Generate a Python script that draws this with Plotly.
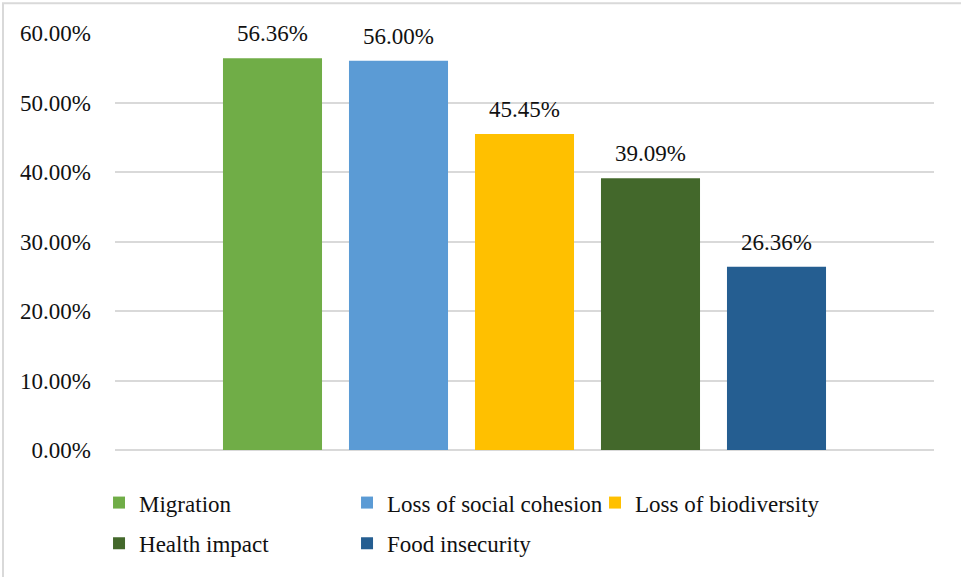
import plotly.graph_objects as go

# Share of respondents naming each impact
impacts = ["Migration", "Loss of social cohesion", "Loss of biodiversity",
           "Health impact", "Food insecurity"]
shares = [0.5636, 0.5600, 0.4545, 0.3909, 0.2636]
colors = ["#70AD47", "#5B9BD5", "#FFC000", "#43682B", "#255E91"]
legend_rows = ["legend", "legend", "legend", "legend2", "legend2"]
y_ticks = [0, 0.1, 0.2, 0.3, 0.4, 0.5, 0.6]

FONT = "Liberation Serif"
TEXT = "#111111"
GRID = "#D9D9D9"

fig = go.Figure()
for i, (name, val, col, lg) in enumerate(zip(impacts, shares, colors, legend_rows)):
    fig.add_trace(go.Bar(
        x=[i], y=[val], name=name, width=0.786, legend=lg,
        marker=dict(color=col, line=dict(width=0)),
        hoverinfo="name+y",
    ))
    fig.add_annotation(
        x=i, y=val, xref="x", yref="y", text=f"{val:.2%}",
        showarrow=False, yanchor="bottom", yshift=10,
        font=dict(family=FONT, size=23, color=TEXT),
    )

L, R, T, B = 115, 27, 33, 124
W, H = 961, 577
pw, ph = W - L - R, H - T - B

# chart frame (left and top edges fall inside the page)
fig.add_shape(
    type="rect", xref="paper", yref="paper",
    x0=(3 - L) / pw, x1=(W + 10 - L) / pw,
    y0=-(B + 10) / ph, y1=1 + (T - 3) / ph,
    line=dict(color=GRID, width=2), fillcolor="rgba(0,0,0,0)", layer="below",
)

legend_style = dict(
    orientation="h", xanchor="left", yanchor="middle",
    entrywidth=203, entrywidthmode="pixels",
    font=dict(family=FONT, size=23, color=TEXT),
    itemclick=False, itemdoubleclick=False, traceorder="normal",
    bgcolor="rgba(0,0,0,0)",
)

fig.update_layout(
    width=W, height=H,
    margin=dict(l=L, r=R, t=T, b=B, pad=0),
    paper_bgcolor="white", plot_bgcolor="white",
    font=dict(family=FONT, size=23, color=TEXT),
    barmode="overlay",
    showlegend=True,
    legend=dict(legend_style, x=-0.0195, y=-(506 - T - ph) / ph),
    legend2=dict(legend_style, x=-0.0195, y=-(547 - T - ph) / ph),
    xaxis=dict(range=[-1.25, 5.25], showticklabels=False, showgrid=False,
               zeroline=False, ticks="", fixedrange=True),
    yaxis=dict(range=[0, 0.6], tickvals=y_ticks, tickformat=".2%",
               showgrid=True, gridcolor=GRID, gridwidth=1.5,
               zeroline=True, zerolinecolor=GRID, zerolinewidth=1.5,
               ticks="", ticklabelstandoff=23, fixedrange=True,
               tickfont=dict(family=FONT, size=23, color=TEXT)),
)

fig.write_html("out.html")
